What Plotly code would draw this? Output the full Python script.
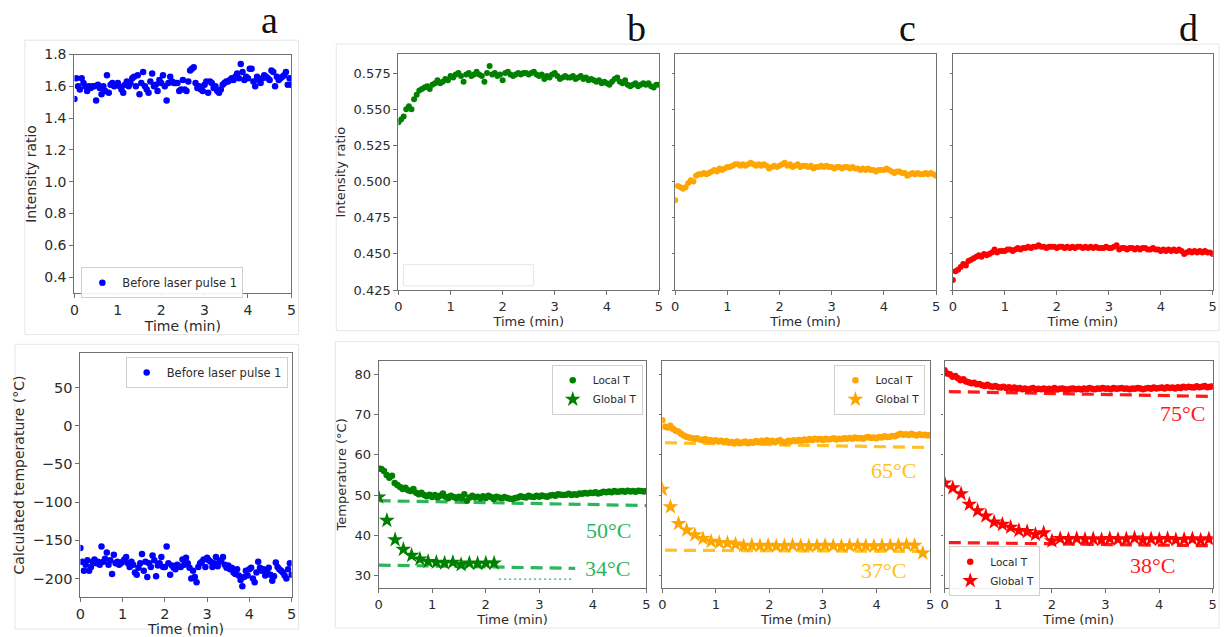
import plotly.graph_objects as go

W, H = 1224, 637

# ---------------- data ----------------
n_a = 121
time_a = [i * 5 / 120 for i in range(n_a)]
ratio_a = [
    1.52, 1.65, 1.60, 1.58, 1.65, 1.62, 1.60, 1.57, 1.60, 1.59, 1.60, 1.60,
    1.51, 1.61, 1.59, 1.55, 1.60, 1.57, 1.67, 1.56, 1.61, 1.62, 1.60, 1.61,
    1.62, 1.60, 1.58, 1.56, 1.61, 1.63, 1.60, 1.62, 1.65, 1.66, 1.60, 1.67,
    1.55, 1.62, 1.69, 1.60, 1.58, 1.56, 1.63, 1.68, 1.60, 1.61, 1.57, 1.64,
    1.62, 1.67, 1.60, 1.51, 1.62, 1.66, 1.63, 1.62, 1.62, 1.62, 1.57, 1.58,
    1.64, 1.58, 1.57, 1.63, 1.70, 1.71, 1.72, 1.62, 1.59, 1.60, 1.58, 1.57,
    1.61, 1.63, 1.56, 1.63, 1.62, 1.59, 1.60, 1.57, 1.56, 1.58, 1.61, 1.62,
    1.63, 1.63, 1.64, 1.65, 1.64, 1.66, 1.68, 1.65, 1.74, 1.69, 1.64, 1.66,
    1.65, 1.71, 1.71, 1.63, 1.60, 1.66, 1.64, 1.62, 1.65, 1.67, 1.66, 1.65,
    1.64, 1.70, 1.69, 1.60, 1.66, 1.64, 1.65, 1.66, 1.67, 1.69, 1.61, 1.65, 1.61,
]
temp_a = [
    -160, -178, -190, -182, -176, -190, -185, -178, -175, -180, -178, -182,
    -158, -178, -174, -166, -182, -176, -194, -169, -180, -178, -182, -180,
    -178, -175, -172, -180, -185, -178, -182, -192, -195, -186, -180, -168,
    -190, -178, -198, -180, -185, -170, -176, -197, -183, -180, -172, -185,
    -185, -158, -180, -195, -183, -186, -188, -182, -184, -185, -175, -182,
    -173, -180, -186, -200, -190, -198, -205, -185, -180, -178, -175, -185,
    -173, -176, -178, -185, -180, -172, -184, -178, -176, -172, -182, -186,
    -183, -188, -186, -192, -194, -188, -196, -202, -210, -198, -190, -196,
    -188, -186, -200, -205, -192, -178, -186, -190, -188, -196, -190, -186,
    -195, -203, -197, -179, -185, -188, -190, -192, -196, -200, -188, -180, -195,
]

n_b = 101
time_b = [i * 0.05 for i in range(n_b)]
ratio_green = [
    0.541, 0.543, 0.545, 0.550, 0.552, 0.550, 0.557, 0.560, 0.563, 0.564,
    0.565, 0.566, 0.564, 0.567, 0.568, 0.570, 0.568, 0.569, 0.571, 0.570,
    0.573, 0.572, 0.574, 0.575, 0.573, 0.569, 0.574, 0.575, 0.573, 0.574,
    0.576, 0.574, 0.573, 0.569, 0.575, 0.580, 0.574, 0.575, 0.573, 0.574,
    0.570, 0.575, 0.576, 0.574, 0.573, 0.574, 0.575, 0.574, 0.575, 0.575,
    0.574, 0.575, 0.576, 0.574, 0.573, 0.574, 0.571, 0.573, 0.572, 0.574,
    0.575, 0.573, 0.571, 0.572, 0.573, 0.572, 0.572, 0.573, 0.571, 0.572,
    0.573, 0.571, 0.572, 0.570, 0.571, 0.570, 0.569, 0.570, 0.568, 0.569,
    0.568, 0.567, 0.569, 0.571, 0.572, 0.569, 0.568, 0.570, 0.567, 0.566,
    0.567, 0.568, 0.566, 0.567, 0.568, 0.567, 0.568, 0.566, 0.565, 0.567, 0.567,
]
ratio_orange = [
    0.487, 0.497, 0.496, 0.495, 0.496, 0.499, 0.501, 0.500, 0.504, 0.505,
    0.505, 0.506, 0.505, 0.506, 0.507, 0.508, 0.507, 0.509, 0.508, 0.509,
    0.510, 0.510, 0.511, 0.512, 0.512, 0.511, 0.512, 0.511, 0.512, 0.513,
    0.512, 0.511, 0.512, 0.511, 0.512, 0.511, 0.509, 0.510, 0.511, 0.510,
    0.511, 0.512, 0.513, 0.511, 0.512, 0.510, 0.511, 0.512, 0.510, 0.511,
    0.511, 0.510, 0.511, 0.509, 0.510, 0.510, 0.511, 0.510, 0.511, 0.510,
    0.510, 0.509, 0.510, 0.510, 0.509, 0.510, 0.510, 0.509, 0.510, 0.509,
    0.509, 0.508, 0.509, 0.508, 0.509, 0.508, 0.508, 0.507, 0.508, 0.508,
    0.508, 0.509, 0.508, 0.507, 0.506, 0.507, 0.507, 0.506, 0.506, 0.504,
    0.505, 0.506, 0.505, 0.506, 0.505, 0.505, 0.506, 0.505, 0.506, 0.505, 0.504,
]
ratio_red = [
    0.432, 0.438, 0.439, 0.441, 0.443, 0.442, 0.445, 0.446, 0.447, 0.448,
    0.449, 0.448, 0.450, 0.449, 0.450, 0.451, 0.453, 0.451, 0.452, 0.452,
    0.452, 0.453, 0.453, 0.452, 0.453, 0.454, 0.453, 0.454, 0.454, 0.455,
    0.454, 0.455, 0.455, 0.456, 0.455, 0.455, 0.454, 0.455, 0.455, 0.455,
    0.454, 0.455, 0.455, 0.454, 0.455, 0.454, 0.455, 0.454, 0.455, 0.455,
    0.454, 0.455, 0.454, 0.455, 0.454, 0.455, 0.454, 0.454, 0.454, 0.455,
    0.454, 0.454, 0.455, 0.456, 0.453, 0.454, 0.454, 0.453, 0.454, 0.454,
    0.453, 0.454, 0.453, 0.454, 0.454, 0.453, 0.453, 0.454, 0.453, 0.453,
    0.452, 0.453, 0.452, 0.453, 0.452, 0.453, 0.452, 0.453, 0.452, 0.450,
    0.451, 0.452, 0.451, 0.452, 0.451, 0.452, 0.451, 0.452, 0.451, 0.451, 0.450,
]

local_green = [
    56.6, 56.5, 56.0, 55.0, 54.3, 54.8, 53.0, 52.5, 52.0, 51.5,
    51.8, 51.2, 51.0, 51.5, 50.6, 50.2, 50.6, 50.0, 49.7, 50.1,
    49.5, 50.0, 49.4, 49.8, 50.4, 49.6, 49.2, 49.8, 49.5, 49.3,
    49.6, 49.2, 50.2, 48.6, 49.4, 49.8, 49.4, 49.6, 49.2, 49.7,
    49.3, 49.8, 49.5, 49.0, 49.6, 49.4, 49.2, 49.5, 49.3, 49.1,
    49.0, 49.3, 49.4, 49.7, 49.5, 49.4, 49.8, 49.6, 49.5, 49.8,
    49.6, 49.9, 49.7, 49.6, 49.9, 50.0, 49.8, 50.2, 50.1, 50.0,
    50.1, 50.3, 50.0, 50.2, 50.1, 50.4, 50.3, 50.5, 50.4, 50.6,
    50.5, 50.7, 50.4, 50.6, 50.8, 50.7, 50.9, 50.7, 51.0, 50.8,
    50.9, 51.0, 50.8, 51.1, 50.9, 51.0, 50.8, 51.1, 51.0, 50.9, 51.0,
]
local_orange = [
    68.6, 67.0, 66.8, 67.2, 66.5, 66.0, 65.8, 65.2, 64.8, 64.5,
    64.3, 64.2, 64.0, 64.1, 63.8, 63.6, 63.9, 63.5, 63.7, 63.4,
    63.6, 63.3, 63.5, 63.2, 63.4, 63.0, 63.2, 62.8, 63.3, 62.9,
    63.1, 63.3, 62.9, 63.2, 63.0, 63.4, 63.1, 63.5, 63.2, 63.6,
    63.3, 63.5, 63.1, 63.4, 63.6, 63.2, 63.0, 63.5, 63.3, 63.6,
    63.4, 63.7, 63.5, 63.8, 63.6, 63.9, 63.7, 64.0, 63.8, 63.9,
    63.7, 64.0, 63.8, 63.9, 64.1, 63.8, 64.0, 63.9, 64.1, 64.0,
    64.2, 64.0, 64.3, 64.1, 64.2, 64.0, 64.3, 64.4, 64.2, 64.3,
    64.1, 64.4, 64.3, 64.6, 64.4, 64.5, 64.7, 64.6, 65.0, 65.2,
    65.0, 65.1, 64.9, 65.2, 65.0, 64.8, 65.1, 64.9, 65.0, 64.8, 64.9,
]
local_red = [
    81.0, 80.2, 80.0, 79.4, 79.6, 79.0, 78.5, 78.8, 78.2, 78.0,
    77.8, 77.9, 77.5, 77.6, 77.3, 77.1, 77.4, 77.0, 76.9, 77.1,
    76.8, 76.7, 76.9, 76.6, 76.8, 76.5, 76.7, 76.4, 76.6, 76.3,
    76.5, 76.2, 76.4, 76.6, 76.2, 76.4, 76.3, 76.5, 76.2, 76.4,
    76.3, 76.6, 76.2, 76.4, 76.5, 76.3, 76.2, 76.4, 76.5, 76.3,
    76.4, 76.2, 76.5, 76.3, 76.6, 76.4, 76.3, 76.5, 76.4, 76.6,
    76.4, 76.5, 76.3, 76.6, 76.4, 76.5, 76.6, 76.4, 76.5, 76.3,
    76.5, 76.4, 76.6, 76.5, 76.3, 76.5, 76.6, 76.4, 76.7, 76.5,
    76.6, 76.7, 76.5, 76.8, 76.6, 76.7, 76.5, 76.8, 76.6, 76.9,
    76.7, 76.9, 76.8, 76.7, 77.0, 76.8, 76.9, 77.1, 76.8, 76.9, 77.0,
]

global_green = [49.5, 43.7, 38.9, 36.5, 35.0, 34.1, 33.5, 33.3, 33.1, 33.3,
                32.7, 33.1, 33.0, 33.1, 33.1]
time_global_green = [i * 0.154 for i in range(len(global_green))]
global_orange = [51.4, 47.1, 42.9, 41.3, 40.1, 39.2, 38.5, 38.2, 38.1, 37.8,
                 37.4, 37.5, 37.4, 37.5, 37.3, 37.4, 37.5, 37.4, 37.3, 37.4,
                 37.5, 37.4, 37.3, 37.4, 37.5, 37.4, 37.3, 37.4, 37.4, 37.5,
                 37.6, 37.5, 35.6]
time_global_orange = [i * 0.152 for i in range(len(global_orange))]
global_red = [53.0, 51.8, 50.3, 47.7, 46.1, 44.8, 43.3, 42.7, 42.0, 41.2,
              40.9, 40.2, 40.6, 38.6, 39.2, 39.0, 39.2, 39.0, 39.1, 38.9,
              39.2, 39.0, 39.1, 39.3, 38.9, 39.1, 39.0, 39.2, 38.9, 39.0,
              39.1, 38.8, 39.1]
time_global_red = [i * 0.154 for i in range(len(global_red))]

# reference (dashed) lines: [t_start, t_end], [T_start, T_end]
ref_green_hi_t, ref_green_hi_T = [0.0, 5.0], [48.6, 47.4]
ref_green_lo_t, ref_green_lo_T = [0.0, 3.67], [32.6, 31.8]
ref_green_dot_t, ref_green_dot_T = [2.25, 3.65], [29.1, 29.1]
ref_orange_hi_t, ref_orange_hi_T = [0.05, 5.0], [63.0, 61.8]
ref_orange_lo_t, ref_orange_lo_T = [0.05, 5.0], [36.3, 36.0]
ref_red_hi_t, ref_red_hi_T = [0.08, 5.0], [75.7, 74.5]
ref_red_lo_t, ref_red_lo_T = [0.08, 5.0], [38.2, 37.4]

x_ticks = [0, 1, 2, 3, 4, 5]
ticks_ratio_a = [0.4, 0.6, 0.8, 1.0, 1.2, 1.4, 1.6, 1.8]
ticks_temp_a = [-200, -150, -100, -50, 0, 50]
ticks_ratio_b = [0.425, 0.450, 0.475, 0.500, 0.525, 0.550, 0.575]
ticks_temp_b = [30, 40, 50, 60, 70, 80]

# ---------------- styling ----------------
BLUE, GREEN, ORANGE, RED = "#0000ff", "#008000", "#ffa500", "#ff0000"
GREEN_REF, ORANGE_REF, RED_REF = "#2db55d", "#ffc125", "#ff1a1a"
TXT = "#2b2b2b"
FONT = "DejaVu Sans"


def px_x(a, b):
    return [a / W, b / W]


def px_y(top, bottom):
    return [1 - bottom / H, 1 - top / H]


fig = go.Figure()


def axis(domain, rng, anchor, ticks, title=None, labels=True, fmt=None,
         tsize=13, ttl_size=13, standoff=4):
    d = dict(domain=domain, range=rng, anchor=anchor, tickvals=ticks,
             showgrid=False, zeroline=False, showline=True, mirror=True,
             linecolor="#707070", linewidth=1.2, ticks="outside",
             ticklen=4 if labels else 2, tickcolor="#707070",
             showticklabels=labels, ticklabeloverflow="allow",
             tickfont=dict(family=FONT, size=tsize, color=TXT))
    if fmt:
        d["tickformat"] = fmt
    if title:
        d["title"] = dict(text=title, font=dict(family=FONT, size=ttl_size, color=TXT),
                          standoff=standoff)
    return d


panels = {
    # name: (x px, y px, yrange, yticks, ytitle, show labels, fmt, tick size, title size)
    "1": ((70, 288.7), (47.7, 292.7), [0.2976, 1.8], ticks_ratio_a, "Intensity ratio", True, ".1f", 14, 14),
    "2": ((76, 289), (354, 604), [-224, 95], ticks_temp_a, "Calculated temperature (°C)", True, None, 14.5, 14),
    "3": ((396.7, 659.3), (47.5, 289.3), [0.425, 0.588], ticks_ratio_b, "Intensity ratio", True, ".3f", 13, 13),
    "4": ((675.7, 938.7), (47.5, 289.3), [0.425, 0.588], ticks_ratio_b, None, False, ".3f", 13, 13),
    "5": ((955.7, 1217.7), (47.5, 289.3), [0.425, 0.588], ticks_ratio_b, None, False, ".3f", 13, 13),
    "6": ((376.7, 646.7), (361.7, 595), [26.9, 83.4], ticks_temp_b, "Temperature (°C)", True, None, 13, 13),
    "7": ((662.7, 932.7), (361.7, 595), [26.9, 83.4], ticks_temp_b, None, False, None, 13, 13),
    "8": ((947.3, 1217.7), (361.7, 595), [26.9, 83.4], ticks_temp_b, None, False, None, 13, 13),
}

layout_axes = {}
for k, (xp, yp, yr, yt, yttl, lab, fmt, ts, tt) in panels.items():
    xa = "xaxis" if k == "1" else f"xaxis{k}"
    ya = "yaxis" if k == "1" else f"yaxis{k}"
    xid = "x" if k == "1" else f"x{k}"
    yid = "y" if k == "1" else f"y{k}"
    layout_axes[xa] = axis(px_x(*xp), [0, 5], yid, x_ticks, "Time (min)", True, None, ts, tt,
                           standoff=1 if k == "2" else 3)
    layout_axes[ya] = axis(px_y(*yp), yr, xid, yt, yttl, lab, fmt, ts, tt)


def ax(k):
    return ("x", "y") if k == "1" else (f"x{k}", f"y{k}")


def dots(k, t, v, color, size, name=None, legend=None, symbol="circle"):
    xa, ya = ax(k)
    fig.add_trace(go.Scatter(
        x=t, y=v, mode="markers", xaxis=xa, yaxis=ya,
        marker=dict(color=color, size=size, symbol=symbol, line=dict(width=0)),
        name=name or "", showlegend=name is not None,
        legend=legend or "legend"))


def ref(k, t, v, color, dash="12px,7px", width=3.2):
    xa, ya = ax(k)
    fig.add_trace(go.Scatter(x=t, y=v, mode="lines", xaxis=xa, yaxis=ya,
                             line=dict(color=color, width=width, dash=dash),
                             showlegend=False, hoverinfo="skip"))


# panel a
dots("1", time_a, ratio_a, BLUE, 6.5, "Before laser pulse 1", "legend")
dots("2", time_a, temp_a, BLUE, 6.5, "Before laser pulse 1", "legend2")
# top b-d
dots("3", time_b, ratio_green, GREEN, 6)
dots("4", time_b, ratio_orange, ORANGE, 6)
dots("5", time_b, ratio_red, RED, 6)
# bottom b
ref("6", ref_green_hi_t, ref_green_hi_T, GREEN_REF)
ref("6", ref_green_lo_t, ref_green_lo_T, GREEN_REF)
ref("6", ref_green_dot_t, ref_green_dot_T, GREEN_REF, dash="2px,3px", width=1.3)
dots("6", time_b, local_green, GREEN, 6.5, "Local T", "legend3")
dots("6", time_global_green, global_green, GREEN, 12, "Global T", "legend3", "star")
# bottom c
ref("7", ref_orange_hi_t, ref_orange_hi_T, ORANGE_REF)
ref("7", ref_orange_lo_t, ref_orange_lo_T, ORANGE_REF)
dots("7", time_b, local_orange, ORANGE, 6.5, "Local T", "legend4")
dots("7", time_global_orange, global_orange, ORANGE, 12, "Global T", "legend4", "star")
# bottom d
ref("8", ref_red_hi_t, ref_red_hi_T, RED_REF)
ref("8", ref_red_lo_t, ref_red_lo_T, RED_REF)
dots("8", time_b, local_red, RED, 6.5, "Local T", "legend5")
dots("8", time_global_red, global_red, RED, 12, "Global T", "legend5", "star")


def leg(x, y, size=11, xanchor="left", yanchor="top"):
    return dict(x=x, y=y, xanchor=xanchor, yanchor=yanchor, xref="paper", yref="paper",
                bgcolor="rgba(255,255,255,0.9)", bordercolor="#d0d0d0", borderwidth=1,
                font=dict(family=FONT, size=size, color=TXT), tracegroupgap=0,
                itemwidth=30)


annotations = []
for letter, xc, yc in [("a", 267, 12), ("b", 637, 21), ("c", 910, 21), ("d", 1193, 21)]:
    annotations.append(dict(text=letter, x=xc / W, y=1 - yc / H, xref="paper", yref="paper",
                            showarrow=False, xanchor="center", yanchor="middle",
                            font=dict(family="Liberation Serif", size=38, color="#111111")))

for k, txt, xv, yv, col in [
    ("6", "50°C", 4.30, 41.3, GREEN_REF), ("6", "34°C", 4.27, 31.8, GREEN_REF),
    ("7", "65°C", 4.31, 56.2, ORANGE_REF), ("7", "37°C", 4.13, 31.2, ORANGE_REF),
    ("8", "75°C", 4.43, 70.2, RED_REF), ("8", "38°C", 3.87, 32.6, RED_REF),
]:
    xa, ya = ax(k)
    annotations.append(dict(text=txt, x=xv, y=yv, xref=xa, yref=ya, showarrow=False,
                            xanchor="center", yanchor="middle",
                            font=dict(family="Liberation Serif", size=22, color=col)))

shapes = []
for x0, y0, x1, y1 in [(20, 33, 296, 335), (10, 345, 296, 637), (334, 37, 1224, 331),
                       (333, 342, 1224, 636), (401.7, 263.3, 533, 285)]:
    shapes.append(dict(type="rect", xref="paper", yref="paper", x0=x0 / W, x1=x1 / W,
                       y0=1 - y1 / H, y1=1 - y0 / H, line=dict(color="#e6e6e6", width=1),
                       layer="below"))

fig.update_layout(
    width=W, height=H, margin=dict(l=0, r=0, t=0, b=0),
    paper_bgcolor="white", plot_bgcolor="white",
    font=dict(family=FONT, color=TXT),
    legend=leg(77 / W, 1 - 266 / H, 11.5),
    legend2=leg(285 / W, 1 - 358 / H, 11.5, xanchor="right"),
    legend3=leg(643 / W, 1 - 366 / H, 10.5, xanchor="right"),
    legend4=leg(928 / W, 1 - 366 / H, 10.5, xanchor="right"),
    legend5=leg(952 / W, 1 - 552 / H, 10.5),
    annotations=annotations, shapes=shapes,
    **layout_axes,
)

fig.write_html(
    "out.html",
    config={"displayModeBar": False},
    post_script="document.body.style.margin='0px';"
                "document.documentElement.style.overflow='hidden';",
)
